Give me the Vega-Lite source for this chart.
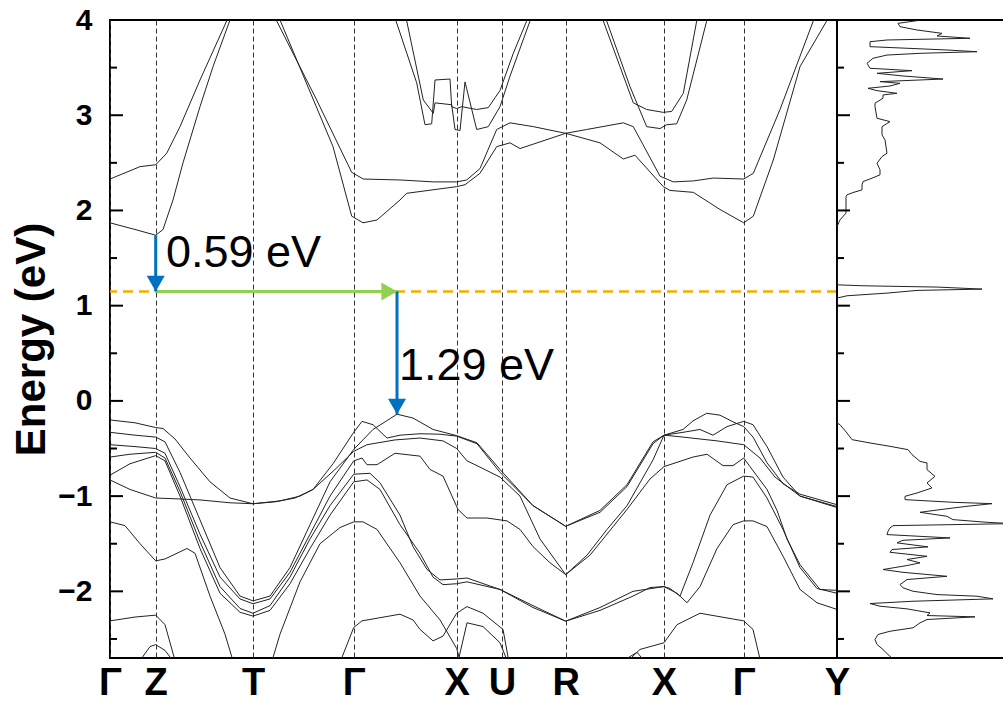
{
  "$schema": "https://vega.github.io/schema/vega-lite/v6.json",
  "usermeta": {"embedOptions": {"actions": false}},
  "background": "white",
  "padding": {"left": 9, "top": 4, "right": 0, "bottom": 0},
  "spacing": 0,
  "bounds": "flush",
  "config": {
    "font": "Liberation Sans",
    "view": {"stroke": "#000", "strokeWidth": 2}
  },
  "datasets": {
    "bands": [
      {"b":"c1","k":0,"E":1.87},{"b":"c1","k":0.25,"E":1.80},{"b":"c1","k":0.457,"E":1.74},{"b":"c1","k":0.53,"E":1.80},{"b":"c1","k":0.63,"E":2.11},{"b":"c1","k":0.73,"E":2.50},{"b":"c1","k":0.90,"E":3.09},{"b":"c1","k":1.03,"E":3.51},{"b":"c1","k":1.20,"E":4.00},{"b":"c1","k":1.30,"E":4.35},{"b":"c1","k":1.60,"E":4.35},{"b":"c1","k":1.70,"E":4.00},{"b":"c1","k":2.23,"E":2.67},{"b":"c1","k":2.417,"E":1.94},{"b":"c1","k":2.53,"E":1.87},{"b":"c1","k":2.67,"E":1.90},{"b":"c1","k":2.90,"E":2.11},{"b":"c1","k":2.967,"E":2.18},{"b":"c1","k":3.467,"E":2.25},{"b":"c1","k":3.55,"E":2.27},{"b":"c1","k":3.70,"E":2.39},{"b":"c1","k":3.867,"E":2.67},{"b":"c1","k":4.00,"E":2.71},{"b":"c1","k":4.10,"E":2.65},{"b":"c1","k":4.557,"E":2.81},{"b":"c1","k":4.90,"E":2.71},{"b":"c1","k":5.133,"E":2.54},{"b":"c1","k":5.25,"E":2.58},{"b":"c1","k":5.533,"E":2.25},{"b":"c1","k":5.60,"E":2.21},{"b":"c1","k":5.833,"E":2.19},{"b":"c1","k":6.10,"E":2.01},{"b":"c1","k":6.337,"E":1.87},{"b":"c1","k":6.433,"E":1.94},{"b":"c1","k":6.633,"E":2.53},{"b":"c1","k":6.90,"E":3.51},{"b":"c1","k":7.167,"E":3.99},{"b":"c1","k":7.27,"E":4.30},

      {"b":"c2","k":0,"E":2.33},{"b":"c2","k":0.30,"E":2.46},{"b":"c2","k":0.457,"E":2.48},{"b":"c2","k":0.567,"E":2.60},{"b":"c2","k":0.70,"E":2.88},{"b":"c2","k":0.90,"E":3.37},{"b":"c2","k":1.167,"E":3.99},{"b":"c2","k":1.26,"E":4.35},{"b":"c2","k":1.58,"E":4.35},{"b":"c2","k":1.667,"E":3.99},{"b":"c2","k":2.067,"E":3.16},{"b":"c2","k":2.417,"E":2.40},{"b":"c2","k":2.533,"E":2.33},{"b":"c2","k":2.90,"E":2.32},{"b":"c2","k":3.233,"E":2.30},{"b":"c2","k":3.467,"E":2.30},{"b":"c2","k":3.567,"E":2.32},{"b":"c2","k":3.70,"E":2.44},{"b":"c2","k":3.867,"E":2.85},{"b":"c2","k":4.00,"E":2.92},{"b":"c2","k":4.233,"E":2.88},{"b":"c2","k":4.557,"E":2.81},{"b":"c2","k":4.767,"E":2.85},{"b":"c2","k":5.133,"E":2.92},{"b":"c2","k":5.233,"E":2.88},{"b":"c2","k":5.50,"E":2.36},{"b":"c2","k":5.633,"E":2.30},{"b":"c2","k":5.833,"E":2.31},{"b":"c2","k":6.033,"E":2.34},{"b":"c2","k":6.337,"E":2.33},{"b":"c2","k":6.433,"E":2.39},{"b":"c2","k":6.70,"E":3.06},{"b":"c2","k":7.033,"E":3.99},{"b":"c2","k":7.10,"E":4.30},

      {"b":"c3","k":2.82,"E":4.30},{"b":"c3","k":2.86,"E":3.99},{"b":"c3","k":3.067,"E":3.34},{"b":"c3","k":3.15,"E":2.90},{"b":"c3","k":3.217,"E":2.91},{"b":"c3","k":3.25,"E":3.37},{"b":"c3","k":3.40,"E":3.38},{"b":"c3","k":3.417,"E":3.09},{"b":"c3","k":3.467,"E":3.07},{"b":"c3","k":3.517,"E":3.09},{"b":"c3","k":3.667,"E":3.06},{"b":"c3","k":3.783,"E":3.08},{"b":"c3","k":3.90,"E":3.26},{"b":"c3","k":4.033,"E":3.65},{"b":"c3","k":4.167,"E":3.99},{"b":"c3","k":4.20,"E":4.30},

      {"b":"c4","k":2.92,"E":4.30},{"b":"c4","k":2.967,"E":3.99},{"b":"c4","k":3.133,"E":3.16},{"b":"c4","k":3.233,"E":3.02},{"b":"c4","k":3.25,"E":3.13},{"b":"c4","k":3.417,"E":3.11},{"b":"c4","k":3.45,"E":2.85},{"b":"c4","k":3.50,"E":2.84},{"b":"c4","k":3.55,"E":3.35},{"b":"c4","k":3.667,"E":2.85},{"b":"c4","k":3.783,"E":2.88},{"b":"c4","k":3.90,"E":3.09},{"b":"c4","k":4.00,"E":3.41},{"b":"c4","k":4.20,"E":3.99},{"b":"c4","k":4.23,"E":4.30},

      {"b":"c5","k":4.91,"E":4.30},{"b":"c5","k":4.933,"E":3.99},{"b":"c5","k":5.10,"E":3.51},{"b":"c5","k":5.233,"E":3.13},{"b":"c5","k":5.367,"E":3.06},{"b":"c5","k":5.533,"E":3.03},{"b":"c5","k":5.617,"E":3.04},{"b":"c5","k":5.733,"E":3.23},{"b":"c5","k":5.867,"E":3.99},{"b":"c5","k":5.89,"E":4.30},

      {"b":"c6","k":4.94,"E":4.30},{"b":"c6","k":4.967,"E":3.99},{"b":"c6","k":5.20,"E":3.30},{"b":"c6","k":5.367,"E":2.88},{"b":"c6","k":5.50,"E":2.86},{"b":"c6","k":5.567,"E":2.90},{"b":"c6","k":5.667,"E":2.91},{"b":"c6","k":5.767,"E":3.16},{"b":"c6","k":5.967,"E":3.99},{"b":"c6","k":5.99,"E":4.30},

      {"b":"v1","k":0,"E":-0.20},{"b":"v1","k":0.25,"E":-0.23},{"b":"v1","k":0.457,"E":-0.28},{"b":"v1","k":0.53,"E":-0.29},{"b":"v1","k":0.65,"E":-0.40},{"b":"v1","k":0.80,"E":-0.60},{"b":"v1","k":1.00,"E":-0.85},{"b":"v1","k":1.20,"E":-1.02},{"b":"v1","k":1.43,"E":-1.08},{"b":"v1","k":1.65,"E":-1.06},{"b":"v1","k":1.85,"E":-1.02},{"b":"v1","k":2.03,"E":-0.93},{"b":"v1","k":2.23,"E":-0.66},{"b":"v1","k":2.437,"E":-0.33},{"b":"v1","k":2.52,"E":-0.215},{"b":"v1","k":2.63,"E":-0.25},{"b":"v1","k":2.77,"E":-0.39},{"b":"v1","k":2.90,"E":-0.36},{"b":"v1","k":3.10,"E":-0.345},{"b":"v1","k":3.30,"E":-0.35},{"b":"v1","k":3.467,"E":-0.37},{"b":"v1","k":3.67,"E":-0.45},{"b":"v1","k":3.90,"E":-0.75},{"b":"v1","k":4.23,"E":-1.10},{"b":"v1","k":4.557,"E":-1.317},{"b":"v1","k":4.90,"E":-1.15},{"b":"v1","k":5.17,"E":-0.88},{"b":"v1","k":5.43,"E":-0.43},{"b":"v1","k":5.54,"E":-0.36},{"b":"v1","k":5.73,"E":-0.30},{"b":"v1","k":5.83,"E":-0.21},{"b":"v1","k":5.967,"E":-0.13},{"b":"v1","k":6.10,"E":-0.15},{"b":"v1","k":6.23,"E":-0.22},{"b":"v1","k":6.337,"E":-0.27},{"b":"v1","k":6.43,"E":-0.38},{"b":"v1","k":6.57,"E":-0.65},{"b":"v1","k":6.73,"E":-0.87},{"b":"v1","k":6.90,"E":-0.98},{"b":"v1","k":7.27,"E":-1.09},

      {"b":"v2","k":0,"E":-0.33},{"b":"v2","k":0.25,"E":-0.36},{"b":"v2","k":0.457,"E":-0.38},{"b":"v2","k":0.55,"E":-0.43},{"b":"v2","k":0.70,"E":-0.75},{"b":"v2","k":0.90,"E":-1.25},{"b":"v2","k":1.10,"E":-1.75},{"b":"v2","k":1.30,"E":-2.05},{"b":"v2","k":1.43,"E":-2.10},{"b":"v2","k":1.60,"E":-2.05},{"b":"v2","k":1.80,"E":-1.75},{"b":"v2","k":2.00,"E":-1.30},{"b":"v2","k":2.20,"E":-0.85},{"b":"v2","k":2.437,"E":-0.51},{"b":"v2","k":2.63,"E":-0.30},{"b":"v2","k":2.87,"E":-0.14},{"b":"v2","k":3.03,"E":-0.18},{"b":"v2","k":3.23,"E":-0.30},{"b":"v2","k":3.467,"E":-0.365},{"b":"v2","k":3.67,"E":-0.44},{"b":"v2","k":3.90,"E":-0.72},{"b":"v2","k":4.23,"E":-1.10},{"b":"v2","k":4.557,"E":-1.317},{"b":"v2","k":4.90,"E":-1.17},{"b":"v2","k":5.17,"E":-0.90},{"b":"v2","k":5.43,"E":-0.45},{"b":"v2","k":5.54,"E":-0.36},{"b":"v2","k":5.73,"E":-0.38},{"b":"v2","k":5.90,"E":-0.40},{"b":"v2","k":6.07,"E":-0.42},{"b":"v2","k":6.337,"E":-0.46},{"b":"v2","k":6.50,"E":-0.60},{"b":"v2","k":6.65,"E":-0.80},{"b":"v2","k":6.90,"E":-1.00},{"b":"v2","k":7.27,"E":-1.12},

      {"b":"v3","k":0,"E":-0.83},{"b":"v3","k":0.20,"E":-0.93},{"b":"v3","k":0.457,"E":-1.02},{"b":"v3","k":0.70,"E":-1.03},{"b":"v3","k":0.90,"E":-1.04},{"b":"v3","k":1.20,"E":-1.07},{"b":"v3","k":1.43,"E":-1.08},{"b":"v3","k":1.70,"E":-1.05},{"b":"v3","k":1.90,"E":-1.00},{"b":"v3","k":2.03,"E":-0.93},{"b":"v3","k":2.25,"E":-0.72},{"b":"v3","k":2.437,"E":-0.53},{"b":"v3","k":2.57,"E":-0.46},{"b":"v3","k":2.85,"E":-0.41},{"b":"v3","k":3.10,"E":-0.39},{"b":"v3","k":3.33,"E":-0.42},{"b":"v3","k":3.467,"E":-0.50},{"b":"v3","k":3.57,"E":-0.63},{"b":"v3","k":3.67,"E":-0.68},{"b":"v3","k":3.90,"E":-0.80},{"b":"v3","k":4.10,"E":-1.00},{"b":"v3","k":4.30,"E":-1.45},{"b":"v3","k":4.557,"E":-1.824},{"b":"v3","k":4.77,"E":-1.62},{"b":"v3","k":4.97,"E":-1.35},{"b":"v3","k":5.17,"E":-1.10},{"b":"v3","k":5.43,"E":-0.62},{"b":"v3","k":5.54,"E":-0.36},{"b":"v3","k":5.73,"E":-0.33},{"b":"v3","k":5.90,"E":-0.30},{"b":"v3","k":6.03,"E":-0.36},{"b":"v3","k":6.17,"E":-0.27},{"b":"v3","k":6.337,"E":-0.215},{"b":"v3","k":6.43,"E":-0.25},{"b":"v3","k":6.57,"E":-0.48},{"b":"v3","k":6.73,"E":-0.80},{"b":"v3","k":6.90,"E":-1.00},{"b":"v3","k":7.27,"E":-1.11},

      {"b":"v4","k":0,"E":-0.46},{"b":"v4","k":0.25,"E":-0.48},{"b":"v4","k":0.457,"E":-0.50},{"b":"v4","k":0.55,"E":-0.55},{"b":"v4","k":0.70,"E":-0.90},{"b":"v4","k":0.90,"E":-1.40},{"b":"v4","k":1.10,"E":-1.85},{"b":"v4","k":1.30,"E":-2.08},{"b":"v4","k":1.43,"E":-2.13},{"b":"v4","k":1.60,"E":-2.08},{"b":"v4","k":1.80,"E":-1.80},{"b":"v4","k":2.00,"E":-1.40},{"b":"v4","k":2.20,"E":-1.00},{"b":"v4","k":2.437,"E":-0.63},{"b":"v4","k":2.52,"E":-0.60},{"b":"v4","k":2.57,"E":-0.67},{"b":"v4","k":2.67,"E":-0.67},{"b":"v4","k":2.85,"E":-0.55},{"b":"v4","k":3.10,"E":-0.58},{"b":"v4","k":3.20,"E":-0.72},{"b":"v4","k":3.33,"E":-0.79},{"b":"v4","k":3.48,"E":-1.14},{"b":"v4","k":3.57,"E":-1.23},{"b":"v4","k":3.77,"E":-1.23},{"b":"v4","k":3.97,"E":-1.26},{"b":"v4","k":4.10,"E":-1.35},{"b":"v4","k":4.23,"E":-1.53},{"b":"v4","k":4.40,"E":-1.70},{"b":"v4","k":4.557,"E":-1.824},{"b":"v4","k":4.80,"E":-1.62},{"b":"v4","k":5.17,"E":-1.14},{"b":"v4","k":5.40,"E":-0.82},{"b":"v4","k":5.54,"E":-0.69},{"b":"v4","k":5.83,"E":-0.59},{"b":"v4","k":5.97,"E":-0.56},{"b":"v4","k":6.13,"E":-0.68},{"b":"v4","k":6.23,"E":-0.68},{"b":"v4","k":6.337,"E":-0.60},{"b":"v4","k":6.40,"E":-0.69},{"b":"v4","k":6.57,"E":-0.93},{"b":"v4","k":6.67,"E":-1.15},{"b":"v4","k":6.77,"E":-1.45},{"b":"v4","k":6.90,"E":-1.72},{"b":"v4","k":7.10,"E":-1.98},{"b":"v4","k":7.27,"E":-1.99},

      {"b":"v5","k":0,"E":-0.59},{"b":"v5","k":0.20,"E":-0.56},{"b":"v5","k":0.457,"E":-0.54},{"b":"v5","k":0.55,"E":-0.60},{"b":"v5","k":0.70,"E":-0.95},{"b":"v5","k":0.90,"E":-1.48},{"b":"v5","k":1.10,"E":-1.95},{"b":"v5","k":1.30,"E":-2.18},{"b":"v5","k":1.43,"E":-2.23},{"b":"v5","k":1.60,"E":-2.15},{"b":"v5","k":1.80,"E":-1.85},{"b":"v5","k":2.00,"E":-1.45},{"b":"v5","k":2.20,"E":-1.10},{"b":"v5","k":2.437,"E":-0.77},{"b":"v5","k":2.60,"E":-0.76},{"b":"v5","k":2.70,"E":-0.86},{"b":"v5","k":2.90,"E":-1.20},{"b":"v5","k":3.03,"E":-1.53},{"b":"v5","k":3.17,"E":-1.77},{"b":"v5","k":3.30,"E":-1.88},{"b":"v5","k":3.467,"E":-1.87},{"b":"v5","k":3.57,"E":-1.86},{"b":"v5","k":3.90,"E":-1.98},{"b":"v5","k":4.23,"E":-2.15},{"b":"v5","k":4.557,"E":-2.313},{"b":"v5","k":4.90,"E":-2.17},{"b":"v5","k":5.23,"E":-2.00},{"b":"v5","k":5.54,"E":-1.95},{"b":"v5","k":5.67,"E":-2.02},{"b":"v5","k":5.77,"E":-2.12},{"b":"v5","k":5.90,"E":-1.95},{"b":"v5","k":6.07,"E":-1.55},{"b":"v5","k":6.23,"E":-1.30},{"b":"v5","k":6.337,"E":-1.26},{"b":"v5","k":6.43,"E":-1.26},{"b":"v5","k":6.57,"E":-1.32},{"b":"v5","k":6.73,"E":-1.63},{"b":"v5","k":6.90,"E":-1.98},{"b":"v5","k":7.07,"E":-2.12},{"b":"v5","k":7.27,"E":-2.19},

      {"b":"v6","k":0,"E":-0.78},{"b":"v6","k":0.20,"E":-0.66},{"b":"v6","k":0.457,"E":-0.575},{"b":"v6","k":0.55,"E":-0.63},{"b":"v6","k":0.70,"E":-1.00},{"b":"v6","k":0.90,"E":-1.55},{"b":"v6","k":1.10,"E":-2.02},{"b":"v6","k":1.30,"E":-2.22},{"b":"v6","k":1.43,"E":-2.26},{"b":"v6","k":1.60,"E":-2.20},{"b":"v6","k":1.80,"E":-1.92},{"b":"v6","k":2.00,"E":-1.55},{"b":"v6","k":2.20,"E":-1.20},{"b":"v6","k":2.437,"E":-0.85},{"b":"v6","k":2.57,"E":-0.83},{"b":"v6","k":2.70,"E":-0.93},{"b":"v6","k":2.90,"E":-1.30},{"b":"v6","k":3.10,"E":-1.60},{"b":"v6","k":3.23,"E":-1.85},{"b":"v6","k":3.33,"E":-1.93},{"b":"v6","k":3.467,"E":-1.92},{"b":"v6","k":3.57,"E":-1.90},{"b":"v6","k":3.90,"E":-1.98},{"b":"v6","k":4.23,"E":-2.17},{"b":"v6","k":4.557,"E":-2.313},{"b":"v6","k":4.90,"E":-2.20},{"b":"v6","k":5.23,"E":-2.05},{"b":"v6","k":5.40,"E":-1.96},{"b":"v6","k":5.54,"E":-1.95},{"b":"v6","k":5.60,"E":-1.97},{"b":"v6","k":5.70,"E":-2.05},{"b":"v6","k":5.83,"E":-1.70},{"b":"v6","k":6.00,"E":-1.20},{"b":"v6","k":6.17,"E":-0.88},{"b":"v6","k":6.337,"E":-0.79},{"b":"v6","k":6.43,"E":-0.80},{"b":"v6","k":6.57,"E":-1.02},{"b":"v6","k":6.73,"E":-1.35},{"b":"v6","k":6.90,"E":-1.75},{"b":"v6","k":7.07,"E":-1.97},{"b":"v6","k":7.27,"E":-2.02},

      {"b":"v7","k":0,"E":-1.27},{"b":"v7","k":0.15,"E":-1.31},{"b":"v7","k":0.30,"E":-1.50},{"b":"v7","k":0.457,"E":-1.68},{"b":"v7","k":0.55,"E":-1.66},{"b":"v7","k":0.77,"E":-1.55},{"b":"v7","k":0.85,"E":-1.60},{"b":"v7","k":1.00,"E":-2.05},{"b":"v7","k":1.15,"E":-2.45},{"b":"v7","k":1.25,"E":-2.80},

      {"b":"v8","k":1.60,"E":-2.80},{"b":"v8","k":1.70,"E":-2.45},{"b":"v8","k":1.90,"E":-1.90},{"b":"v8","k":2.10,"E":-1.50},{"b":"v8","k":2.30,"E":-1.33},{"b":"v8","k":2.437,"E":-1.27},{"b":"v8","k":2.53,"E":-1.27},{"b":"v8","k":2.67,"E":-1.35},{"b":"v8","k":2.90,"E":-1.70},{"b":"v8","k":3.10,"E":-2.05},{"b":"v8","k":3.30,"E":-2.30},{"b":"v8","k":3.467,"E":-2.60},{"b":"v8","k":3.52,"E":-2.80},

      {"b":"v9","k":0,"E":-2.31},{"b":"v9","k":0.25,"E":-2.27},{"b":"v9","k":0.457,"E":-2.25},{"b":"v9","k":0.55,"E":-2.35},{"b":"v9","k":0.67,"E":-2.80},

      {"b":"v10","k":0.25,"E":-2.80},{"b":"v10","k":0.40,"E":-2.58},{"b":"v10","k":0.457,"E":-2.56},{"b":"v10","k":0.55,"E":-2.62},{"b":"v10","k":0.68,"E":-2.80},

      {"b":"v11","k":2.28,"E":-2.80},{"b":"v11","k":2.437,"E":-2.38},{"b":"v11","k":2.52,"E":-2.31},{"b":"v11","k":2.90,"E":-2.24},{"b":"v11","k":3.03,"E":-2.30},{"b":"v11","k":3.10,"E":-2.40},{"b":"v11","k":3.23,"E":-2.52},{"b":"v11","k":3.33,"E":-2.47},{"b":"v11","k":3.467,"E":-2.23},{"b":"v11","k":3.57,"E":-2.16},{"b":"v11","k":3.73,"E":-2.23},{"b":"v11","k":3.93,"E":-2.40},{"b":"v11","k":4.00,"E":-2.80},

      {"b":"v12","k":3.467,"E":-2.80},{"b":"v12","k":3.57,"E":-2.33},{"b":"v12","k":3.73,"E":-2.37},{"b":"v12","k":3.90,"E":-2.54},{"b":"v12","k":4.00,"E":-2.80},

      {"b":"v13","k":5.11,"E":-2.80},{"b":"v13","k":5.30,"E":-2.61},{"b":"v13","k":5.54,"E":-2.54},{"b":"v13","k":5.67,"E":-2.35},{"b":"v13","k":5.90,"E":-2.23},{"b":"v13","k":6.337,"E":-2.31},{"b":"v13","k":6.43,"E":-2.40},{"b":"v13","k":6.52,"E":-2.80},

      {"b":"v14","k":5.02,"E":-2.80},{"b":"v14","k":5.27,"E":-2.64},{"b":"v14","k":5.40,"E":-2.80}
    ],
    "dos": [
      {"E":4.05,"d":85},{"E":3.993,"d":80},{"E":3.965,"d":61},{"E":3.930,"d":63},{"E":3.895,"d":80},{"E":3.860,"d":105},{"E":3.832,"d":100},{"E":3.808,"d":133},{"E":3.790,"d":50},{"E":3.772,"d":33},{"E":3.720,"d":33},{"E":3.685,"d":110},{"E":3.667,"d":140},{"E":3.650,"d":83},{"E":3.632,"d":50},{"E":3.598,"d":36},{"E":3.545,"d":30},{"E":3.493,"d":33},{"E":3.468,"d":75},{"E":3.440,"d":40},{"E":3.412,"d":66},{"E":3.380,"d":106},{"E":3.353,"d":43},{"E":3.335,"d":63},{"E":3.307,"d":53},{"E":3.283,"d":31},{"E":3.258,"d":40},{"E":3.230,"d":60},{"E":3.213,"d":46},{"E":3.178,"d":46},{"E":3.126,"d":38},{"E":3.090,"d":38},{"E":2.968,"d":40},{"E":2.933,"d":53},{"E":2.880,"d":45},{"E":2.793,"d":45},{"E":2.741,"d":48},{"E":2.601,"d":50},{"E":2.566,"d":45},{"E":2.496,"d":40},{"E":2.426,"d":43},{"E":2.374,"d":43},{"E":2.339,"d":35},{"E":2.303,"d":26},{"E":2.269,"d":25},{"E":2.216,"d":25},{"E":2.188,"d":16},{"E":2.164,"d":10},{"E":2.146,"d":9},{"E":1.972,"d":9},{"E":1.901,"d":3},{"E":1.831,"d":0},
      {"E":1.219,"d":0},{"E":1.209,"d":26},{"E":1.195,"d":101},{"E":1.174,"d":145},{"E":1.160,"d":80},{"E":1.132,"d":50},{"E":1.104,"d":10},{"E":1.080,"d":0},
      {"E":-0.232,"d":0},{"E":-0.250,"d":3},{"E":-0.337,"d":10},{"E":-0.407,"d":15},{"E":-0.442,"d":33},{"E":-0.477,"d":53},{"E":-0.512,"d":71},{"E":-0.564,"d":75},{"E":-0.635,"d":83},{"E":-0.652,"d":90},{"E":-0.722,"d":90},{"E":-0.792,"d":98},{"E":-0.862,"d":90},{"E":-0.914,"d":95},{"E":-0.967,"d":80},{"E":-1.002,"d":68},{"E":-1.037,"d":68},{"E":-1.065,"d":116},{"E":-1.079,"d":155},{"E":-1.107,"d":130},{"E":-1.142,"d":103},{"E":-1.170,"d":83},{"E":-1.212,"d":110},{"E":-1.247,"d":116},{"E":-1.275,"d":150},{"E":-1.289,"d":175},{"E":-1.310,"d":56},{"E":-1.334,"d":53},{"E":-1.369,"d":51},{"E":-1.404,"d":50},{"E":-1.439,"d":113},{"E":-1.464,"d":66},{"E":-1.491,"d":60},{"E":-1.533,"d":91},{"E":-1.561,"d":55},{"E":-1.590,"d":53},{"E":-1.632,"d":90},{"E":-1.666,"d":70},{"E":-1.701,"d":83},{"E":-1.729,"d":70},{"E":-1.771,"d":46},{"E":-1.800,"d":66},{"E":-1.842,"d":110},{"E":-1.876,"d":70},{"E":-1.929,"d":63},{"E":-1.963,"d":66},{"E":-1.999,"d":76},{"E":-2.034,"d":100},{"E":-2.051,"d":140},{"E":-2.079,"d":156},{"E":-2.104,"d":76},{"E":-2.128,"d":33},{"E":-2.156,"d":43},{"E":-2.184,"d":70},{"E":-2.226,"d":93},{"E":-2.254,"d":90},{"E":-2.268,"d":138},{"E":-2.296,"d":90},{"E":-2.331,"d":83},{"E":-2.383,"d":76},{"E":-2.419,"d":53},{"E":-2.453,"d":41},{"E":-2.506,"d":38},{"E":-2.558,"d":40},{"E":-2.611,"d":46},{"E":-2.663,"d":51},{"E":-2.720,"d":57}
    ],
    "majorTicks": [{"E":-2},{"E":-1},{"E":0},{"E":1},{"E":2},{"E":3}],
    "minorTicks": [{"E":-2.5},{"E":-1.5},{"E":-0.5},{"E":0.5},{"E":1.5},{"E":2.5},{"E":3.5}]
  },
  "hconcat": [
    {
      "width": 727,
      "height": 638,
      "layer": [
        {
          "data": {"name": "bands"},
          "mark": {"type": "line", "clip": true, "stroke": "#222", "strokeWidth": 1},
          "encoding": {
            "x": {
              "field": "k", "type": "quantitative",
              "scale": {"domain": [0, 7.27], "nice": false, "zero": false},
              "axis": {
                "title": null,
                "values": [0, 0.457, 1.43, 2.437, 3.467, 3.92, 4.557, 5.54, 6.337, 7.27],
                "labelExpr": "datum.value < 0.2 ? 'Γ' : datum.value < 1 ? 'Z' : datum.value < 2 ? 'T' : datum.value < 3 ? 'Γ' : datum.value < 3.7 ? 'X' : datum.value < 4.2 ? 'U' : datum.value < 5 ? 'R' : datum.value < 6 ? 'X' : datum.value < 7 ? 'Γ' : 'Y'",
                "domain": false,
                "ticks": false,
                "grid": true,
                "gridColor": "#333",
                "gridDash": [5, 3],
                "gridWidth": 1,
                "gridOpacity": 1,
                "labelFont": "Liberation Sans Narrow, Liberation Sans",
                "labelFontSize": 38,
                "labelFontWeight": "bold",
                "labelColor": "#000",
                "labelPadding": 6,
                "labelFlush": false,
                "labelOverlap": false
              }
            },
            "y": {
              "field": "E", "type": "quantitative",
              "scale": {"domain": [-2.7, 4], "nice": false, "zero": false},
              "axis": {
                "title": "Energy (eV)",
                "titleFontSize": 42,
                "titleFontWeight": "bold",
                "titleColor": "#000",
                "titlePadding": 4,
                "values": [-2, -1, 0, 1, 2, 3, 4],
                "format": "d",
                "domain": false,
                "ticks": false,
                "grid": false,
                "labelFontSize": 30,
                "labelFontWeight": "bold",
                "labelColor": "#000",
                "labelPadding": 18,
                "labelFlush": false,
                "labelOverlap": false
              }
            },
            "detail": {"field": "b"}
          }
        },
        {
          "data": {"name": "majorTicks"},
          "mark": {"type": "rule", "stroke": "#000", "strokeWidth": 2},
          "encoding": {
            "x": {"datum": 0, "type": "quantitative"},
            "x2": {"datum": 0.13},
            "y": {"field": "E", "type": "quantitative"}
          }
        },
        {
          "data": {"name": "minorTicks"},
          "mark": {"type": "rule", "stroke": "#000", "strokeWidth": 2},
          "encoding": {
            "x": {"datum": 0, "type": "quantitative"},
            "x2": {"datum": 0.07},
            "y": {"field": "E", "type": "quantitative"}
          }
        },
        {
          "data": {"values": [{"level": 1.15}]},
          "mark": {"type": "rule", "stroke": "#F0B000", "strokeWidth": 2.5, "strokeDash": [10, 6]},
          "encoding": {"y": {"field": "level", "type": "quantitative"}}
        },
        {
          "data": {"values": [{"k0": 0.457, "k1": 2.87, "level": 1.15}]},
          "mark": {"type": "rule", "stroke": "#92D050", "strokeWidth": 3},
          "encoding": {
            "x": {"field": "k0", "type": "quantitative"},
            "x2": {"field": "k1"},
            "y": {"field": "level", "type": "quantitative"}
          }
        },
        {
          "data": {"values": [{"k": 0.457, "from": 1.74, "to": 1.15}, {"k": 2.87, "from": 1.15, "to": -0.14}]},
          "mark": {"type": "rule", "stroke": "#0070C0", "strokeWidth": 3},
          "encoding": {
            "x": {"field": "k", "type": "quantitative"},
            "y": {"field": "from", "type": "quantitative"},
            "y2": {"field": "to"}
          }
        },
        {
          "data": {"values": [{"k": 0.457, "E": 1.15}, {"k": 2.87, "E": -0.14}]},
          "mark": {"type": "point", "shape": "triangle-down", "filled": true, "size": 324, "color": "#0070C0", "opacity": 1, "yOffset": -7.8},
          "encoding": {
            "x": {"field": "k", "type": "quantitative"},
            "y": {"field": "E", "type": "quantitative"}
          }
        },
        {
          "data": {"values": [{"k": 2.87, "E": 1.15}]},
          "mark": {"type": "point", "shape": "triangle-right", "filled": true, "size": 324, "color": "#92D050", "opacity": 1, "xOffset": -7.8},
          "encoding": {
            "x": {"field": "k", "type": "quantitative"},
            "y": {"field": "E", "type": "quantitative"}
          }
        },
        {
          "data": {"values": [{"k": 0.56, "E": 1.406, "t": "0.59 eV"}, {"k": 2.89, "E": 0.219, "t": "1.29 eV"}]},
          "mark": {"type": "text", "align": "left", "baseline": "alphabetic", "fontSize": 45, "color": "#000"},
          "encoding": {
            "x": {"field": "k", "type": "quantitative"},
            "y": {"field": "E", "type": "quantitative"},
            "text": {"field": "t"}
          }
        }
      ]
    },
    {
      "width": 170,
      "height": 638,
      "layer": [
        {
          "data": {"name": "dos"},
          "mark": {"type": "line", "clip": true, "stroke": "#222", "strokeWidth": 1},
          "encoding": {
            "x": {"field": "d", "type": "quantitative", "scale": {"domain": [0, 170], "nice": false, "zero": false}, "axis": null},
            "y": {"field": "E", "type": "quantitative", "scale": {"domain": [-2.7, 4], "nice": false, "zero": false}, "axis": null},
            "order": {"field": "E", "type": "quantitative"}
          }
        },
        {
          "data": {"name": "majorTicks"},
          "mark": {"type": "rule", "stroke": "#000", "strokeWidth": 2},
          "encoding": {
            "x": {"datum": 0, "type": "quantitative"},
            "x2": {"datum": 13},
            "y": {"field": "E", "type": "quantitative"}
          }
        },
        {
          "data": {"name": "minorTicks"},
          "mark": {"type": "rule", "stroke": "#000", "strokeWidth": 2},
          "encoding": {
            "x": {"datum": 0, "type": "quantitative"},
            "x2": {"datum": 7},
            "y": {"field": "E", "type": "quantitative"}
          }
        }
      ]
    }
  ]
}
